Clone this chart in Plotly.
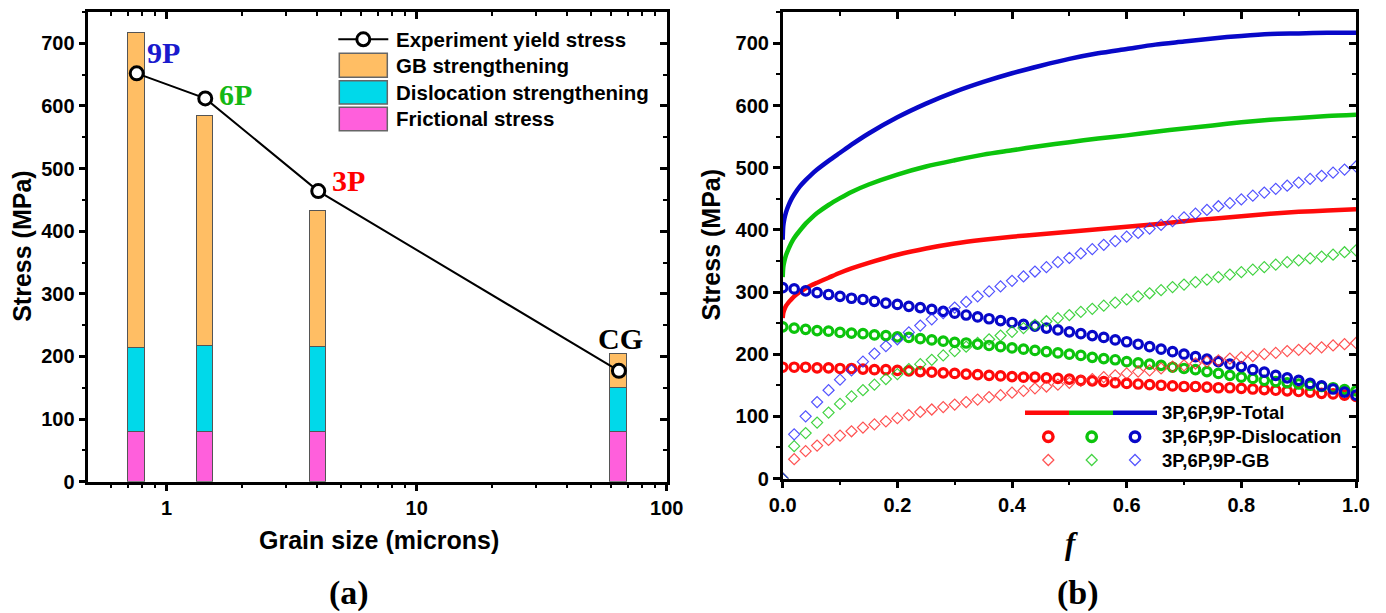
import numpy as np
import plotly.graph_objects as go

W, H = 1386, 613

# ---------------- panel (a) data ----------------
samples = ["9P", "6P", "3P", "CG"]
grain_size_um = [0.759, 1.427, 4.04, 64.4]
frictional_stress = [80, 80, 80, 80]
dislocation_strength = [133, 137, 135, 70]
gb_strength = [503, 367, 218, 54]
experiment_yield = [652, 612, 464, 177]
label_colors = ["#1a1acd", "#14b814", "#ff0000", "#000000"]
# label anchor (log10 x, stress) for the sample names
label_x = [-0.011, 0.274, 0.727, 1.815]
label_y = [686, 618, 481, 228]

x_major_a = [1, 10, 100]
x_minor_a = [0.6, 0.7, 0.8, 0.9, 2, 3, 4, 5, 6, 7, 8, 9, 20, 30, 40, 50, 60, 70, 80, 90]
y_major = [0, 100, 200, 300, 400, 500, 600, 700]

# ---------------- panel (b) data ----------------
f_points = [i / 50 for i in range(51)]
disl_3p = [179, 179, 179, 178, 178, 177, 177, 176, 175, 175, 174, 173, 172, 171, 170, 169, 168,
           167, 166, 165, 164, 163, 163, 162, 161, 160, 158, 157, 156, 154, 153, 152, 151, 150,
           149, 148, 148, 147, 146, 146, 145, 144, 143, 142, 141, 140, 139, 137, 136, 134, 132]
disl_6p = [244, 242, 240, 238, 237, 235, 234, 233, 231, 230, 228, 227, 225, 223, 221, 219, 218,
           216, 214, 212, 210, 208, 206, 204, 202, 200, 198, 195, 193, 191, 188, 186, 184, 182,
           179, 177, 175, 172, 169, 166, 163, 161, 158, 156, 154, 152, 150, 148, 146, 143, 141]
disl_9p = [307, 305, 302, 299, 296, 293, 290, 288, 285, 282, 280, 277, 275, 272, 269, 266, 263,
           260, 257, 254, 251, 248, 245, 242, 239, 236, 233, 230, 227, 223, 220, 216, 212, 208,
           204, 200, 196, 192, 188, 184, 180, 175, 171, 166, 162, 158, 153, 149, 144, 139, 134]
gb_3p = [0, 31, 44, 53, 62, 69, 76, 82, 87, 92, 97, 102, 107, 111, 115, 119, 123, 127, 131, 134,
         138, 141, 145, 148, 151, 154, 157, 160, 163, 166, 169, 172, 174, 177, 180, 182, 185, 188,
         190, 193, 195, 197, 200, 202, 205, 207, 209, 211, 214, 216, 218]
gb_6p = [0, 52, 73, 90, 106, 120, 132, 142, 151, 160, 168, 176, 184, 191, 198, 205, 212, 218, 224,
         230, 236, 242, 247, 253, 258, 263, 268, 273, 278, 283, 288, 293, 298, 303, 308, 312, 316,
         320, 324, 328, 332, 336, 340, 344, 348, 351, 354, 357, 360, 364, 367]
gb_9p = [0, 71, 100, 123, 142, 159, 174, 188, 201, 213, 224, 235, 246, 256, 266, 275, 284, 293,
         301, 309, 318, 325, 333, 340, 348, 355, 362, 369, 376, 382, 389, 395, 402, 408, 414, 420,
         426, 432, 438, 443, 449, 455, 460, 466, 471, 476, 482, 487, 492, 497, 502]

f_line = [0, 0.001, 0.003, 0.006, 0.01, 0.015, 0.02, 0.03, 0.04, 0.05, 0.06, 0.08, 0.1, 0.12,
          0.15, 0.2, 0.25, 0.3, 0.35, 0.4, 0.45, 0.5, 0.55, 0.6, 0.65, 0.7, 0.75, 0.8, 0.85, 0.9,
          0.95, 1.0]
total_3p = [258, 266, 272, 278, 283, 288, 293, 300, 306, 311, 315, 323, 331, 338, 347, 360, 370,
            378, 384, 389, 393, 397, 401, 405, 409, 414, 418, 422, 426, 429, 431, 433]
total_6p = [324, 340, 350, 360, 369, 379, 387, 399, 410, 419, 427, 440, 451, 461, 473, 489, 502,
            512, 521, 528, 535, 541, 547, 552, 558, 563, 568, 573, 577, 580, 583, 585]
total_9p = [384, 406, 418, 429, 439, 449, 457, 470, 480, 489, 497, 511, 524, 537, 555, 581, 603,
            622, 638, 652, 664, 675, 684, 691, 698, 703, 708, 712, 715, 716, 717, 717]

x_major_b = [0, 0.2, 0.4, 0.6, 0.8, 1.0]
x_ticktext_b = ["0.0", "0.2", "0.4", "0.6", "0.8", "1.0"]

RED, GREEN, BLUE = "#ff0a0a", "#0cc40c", "#0808c8"
RED_D, GREEN_D, BLUE_D = "rgba(255,40,40,0.8)", "rgba(20,200,20,0.8)", "rgba(40,40,255,0.8)"
ORANGE, CYAN, MAGENTA = "#ffbe64", "#00d9ea", "#ff5fdc"

SANS = "Liberation Sans"
SERIF = "Liberation Serif"


def px(x):
    return x / W


def py(y):
    return 1 - y / H


# layout geometry in pixels
A_X = (88.3, 666.7)
A_Y = (12.0, 481.7)
B_X = (782.7, 1356.0)
B_Y = (12.3, 478.5)

log_x = list(np.log10(grain_size_um))
bar_w = 0.0667

fig = go.Figure()

# ---------- panel (a): stacked bars ----------
for vals, col, name in [(frictional_stress, MAGENTA, "Frictional stress"),
                        (dislocation_strength, CYAN, "Dislocation strengthening"),
                        (gb_strength, ORANGE, "GB strengthening")]:
    fig.add_trace(go.Bar(x=log_x, y=vals, width=bar_w, name=name,
                         marker=dict(color=col, line=dict(color="#555555", width=1.2)),
                         xaxis="x", yaxis="y", hoverinfo="skip"))

fig.add_trace(go.Scatter(x=log_x, y=experiment_yield, mode="lines+markers",
                         name="Experiment yield stress",
                         line=dict(color="black", width=2),
                         marker=dict(symbol="circle", size=13, color="white",
                                     line=dict(color="black", width=3)),
                         xaxis="x", yaxis="y"))

# ---------- panel (b) ----------
for yv, col in [(total_3p, RED), (total_6p, GREEN), (total_9p, BLUE)]:
    fig.add_trace(go.Scatter(x=f_line, y=yv, mode="lines",
                             line=dict(color=col, width=4.5, shape="spline", smoothing=0.8),
                             xaxis="x2", yaxis="y2"))
for yv, col in [(disl_3p, RED), (disl_6p, GREEN), (disl_9p, BLUE)]:
    fig.add_trace(go.Scatter(x=f_points, y=yv, mode="markers",
                             marker=dict(symbol="circle-open", size=8.5, color=col,
                                         line=dict(color=col, width=3.2)),
                             xaxis="x2", yaxis="y2"))
for yv, col in [(gb_3p, RED_D), (gb_6p, GREEN_D), (gb_9p, BLUE_D)]:
    fig.add_trace(go.Scatter(x=f_points, y=yv, mode="markers",
                             marker=dict(symbol="diamond-open", size=8.5, color=col,
                                         line=dict(color=col, width=1.2)),
                             xaxis="x2", yaxis="y2"))

# empty traces so the tick-only overlay axes exist
for xa, ya in [("x3", "y3"), ("x4", "y4")]:
    fig.add_trace(go.Scatter(x=[], y=[], xaxis=xa, yaxis=ya, hoverinfo="skip"))

# ---------- legend glyphs on a pixel helper axis ----------
fig.add_trace(go.Scatter(x=[338.3, 388.3], y=[39.3, 39.3], mode="lines",
                         line=dict(color="black", width=2), xaxis="x5", yaxis="y5"))
fig.add_trace(go.Scatter(x=[363.3], y=[39.3], mode="markers",
                         marker=dict(symbol="circle", size=13, color="white",
                                     line=dict(color="black", width=3)),
                         xaxis="x5", yaxis="y5"))
leg_b_x = [1048.3, 1091.7, 1135.0]
for xx, col in zip(leg_b_x, [RED, GREEN, BLUE]):
    fig.add_trace(go.Scatter(x=[xx], y=[436.7], mode="markers",
                             marker=dict(symbol="circle-open", size=9.5, color=col,
                                         line=dict(color=col, width=3.4)),
                             xaxis="x5", yaxis="y5"))
for xx, col in zip(leg_b_x, [RED_D, GREEN_D, BLUE_D]):
    fig.add_trace(go.Scatter(x=[xx], y=[460], mode="markers",
                             marker=dict(symbol="diamond-open", size=8.5, color=col,
                                         line=dict(color=col, width=1.2)),
                             xaxis="x5", yaxis="y5"))

shapes = []
for (y0, y1), col in zip([(53.3, 77.3), (80.7, 104.0), (107.3, 130.7)], [ORANGE, CYAN, MAGENTA]):
    shapes.append(dict(type="rect", xref="x5", yref="y5", x0=339.3, x1=387.3, y0=y0, y1=y1,
                       fillcolor=col, line=dict(color="#666666", width=1.5), layer="above"))
for (x0, x1), col in zip([(1025, 1069), (1069, 1113), (1113, 1157)], [RED, GREEN, BLUE]):
    shapes.append(dict(type="line", xref="x5", yref="y5", x0=x0, x1=x1, y0=412.7, y1=412.7,
                       line=dict(color=col, width=4.5), layer="above"))

annotations = []


def txt(text, x, y, size, family=SANS, color="black", xanchor="center", angle=0,
        weight="bold", style="normal"):
    annotations.append(dict(text=text, x=px(x), y=py(y), xref="paper", yref="paper",
                            xanchor=xanchor, yanchor="middle", showarrow=False, textangle=angle,
                            font=dict(family=family, size=size, color=color, weight=weight,
                                      style=style)))


# legend (a) texts
for t, yy in zip(["Experiment yield stress", "GB strengthening", "Dislocation strengthening",
                  "Frictional stress"], [39.3, 65.7, 92.3, 119.0]):
    txt(t, 394.3, yy, 20.5, xanchor="left")
# legend (b) texts
for t, yy in zip(["3P,6P,9P-Total", "3P,6P,9P-Dislocation", "3P,6P,9P-GB"], [412.7, 436.7, 460.0]):
    txt(t, 1160, yy, 18.5, xanchor="left")

# axis titles and panel labels
txt("Stress (MPa)", 22, 246.8, 25, angle=-90)
txt("Grain size (microns)", 378.6, 540, 25)
txt("Stress (MPa)", 711, 245.4, 25, angle=-90)
txt("f", 1071.7, 543, 31, family=SERIF, style="italic")
txt("(a)", 349, 593, 34, family=SERIF)
txt("(b)", 1077.5, 593, 34, family=SERIF)

# sample labels in panel (a)
for s, lx, ly, c in zip(samples, label_x, label_y, label_colors):
    annotations.append(dict(text=s, x=lx, y=ly, xref="x", yref="y", showarrow=False,
                            xanchor="center", yanchor="middle",
                            font=dict(family=SERIF, size=30, color=c, weight="bold")))

tickfont = dict(family=SANS, size=20, color="black", weight="bold")
base_axis = dict(showline=True, linecolor="black", linewidth=2.5, mirror=True,
                 ticks="outside", ticklen=7, tickwidth=2.5, tickcolor="black",
                 showgrid=False, zeroline=False, tickfont=tickfont, automargin=False,
                 fixedrange=True)
minor_out = dict(ticks="outside", ticklen=4, tickwidth=2, tickcolor="black", showgrid=False)
minor_in = dict(ticks="inside", ticklen=4, tickwidth=2, tickcolor="black", showgrid=False)
overlay_common = dict(showline=False, ticks="inside", ticklen=7, tickwidth=2.5,
                      tickcolor="black", showticklabels=False, showgrid=False,
                      zeroline=False, automargin=False, fixedrange=True)

xa_range = [float(np.log10(0.486)), 2.0]
ya_range = [0, 750]

fig.update_layout(
    width=W, height=H,
    margin=dict(l=0, r=0, t=0, b=0),
    paper_bgcolor="white", plot_bgcolor="rgba(0,0,0,0)",
    showlegend=False, barmode="stack", bargap=0,
    xaxis=dict(base_axis, domain=[px(A_X[0]), px(A_X[1])], anchor="y", range=xa_range,
               tickmode="array", tickvals=list(np.log10(x_major_a)),
               ticktext=[str(v) for v in x_major_a],
               minor=dict(minor_out, tickmode="array", tickvals=list(np.log10(x_minor_a)))),
    yaxis=dict(base_axis, domain=[py(A_Y[1]), py(A_Y[0])], anchor="x", range=ya_range,
               tickmode="array", tickvals=y_major,
               minor=dict(minor_out, dtick=50)),
    xaxis3=dict(overlay_common, overlaying="x", anchor="y", side="top", range=xa_range,
                tickmode="array", tickvals=list(np.log10(x_major_a)),
                minor=dict(minor_in, tickmode="array", tickvals=list(np.log10(x_minor_a)))),
    yaxis3=dict(overlay_common, overlaying="y", anchor="x", side="right", range=ya_range,
                tickmode="array", tickvals=y_major, minor=dict(minor_in, dtick=50)),
    xaxis2=dict(base_axis, domain=[px(B_X[0]), px(B_X[1])], anchor="y2", range=[0, 1],
                tickmode="array", tickvals=x_major_b, ticktext=x_ticktext_b,
                minor=dict(minor_out, dtick=0.1)),
    yaxis2=dict(base_axis, domain=[py(B_Y[1]), py(B_Y[0])], anchor="x2", range=ya_range,
                tickmode="array", tickvals=y_major, minor=dict(minor_out, dtick=50)),
    xaxis4=dict(overlay_common, overlaying="x2", anchor="y2", side="top", range=[0, 1],
                tickmode="array", tickvals=x_major_b, minor=dict(minor_in, dtick=0.1)),
    yaxis4=dict(overlay_common, overlaying="y2", anchor="x2", side="right", range=ya_range,
                tickmode="array", tickvals=y_major, minor=dict(minor_in, dtick=50)),
    xaxis5=dict(domain=[0, 1], range=[0, W], visible=False, anchor="y5", fixedrange=True),
    yaxis5=dict(domain=[0, 1], range=[H, 0], visible=False, anchor="x5", fixedrange=True),
    shapes=shapes,
    annotations=annotations,
)

fig.write_html("out.html")
